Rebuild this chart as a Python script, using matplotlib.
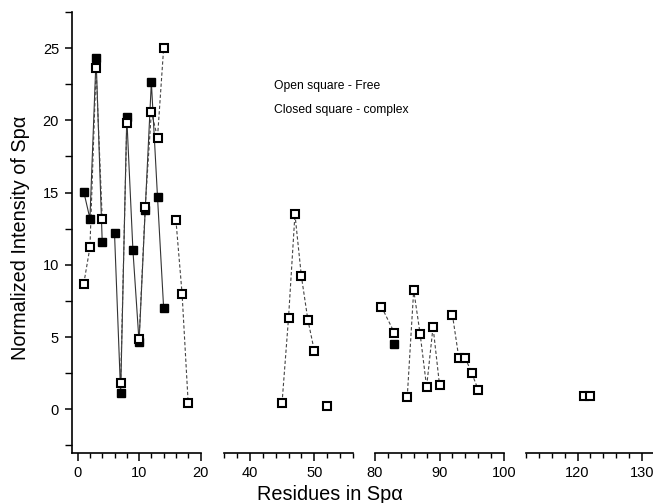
import matplotlib
matplotlib.use('Agg')
import matplotlib.pyplot as plt
from matplotlib.ticker import MultipleLocator
import numpy as np

plt.rcParams['font.family'] = ['Liberation Sans', 'DejaVu Sans']

nan = np.nan

# free protein (open squares); nan = residue not observed (line break)
free_x = [1, 2, 3, 4, nan, 7, 8, nan, 10, 11, 12, 13, 14, nan, 16, 17, 18, nan,
          45, 46, 47, 48, 49, 50, nan, 52, nan, 81, 83, nan,
          85, 86, 87, 88, 89, 90, nan, 92, 93, 94, 95, 96, nan, 121, 122]
free_y = [8.7, 11.2, 23.6, 13.2, nan, 1.8, 19.8, nan, 4.85, 14.0, 20.6, 18.8, 25.0, nan,
          13.1, 8.0, 0.4, nan,
          0.45, 6.3, 13.5, 9.2, 6.2, 4.05, nan, 0.25, nan, 7.1, 5.3, nan,
          0.85, 8.25, 5.2, 1.55, 5.7, 1.7, nan, 6.55, 3.55, 3.55, 2.5, 1.35, nan, 0.9, 0.9]

# complex (closed squares)
cplx_x = [1, 2, 3, 4, nan, 6, 7, 8, 9, 10, 11, 12, 13, 14, nan, 83]
cplx_y = [15.05, 13.2, 24.3, 11.6, nan, 12.2, 1.1, 20.2, 11.0, 4.65, 13.8, 22.65, 14.7, 7.0, nan, 4.5]

# broken x axis: four segments
segments = [(-1, 20), (36, 56), (80, 100), (112, 132)]
seg_px = [(71.5, 200.5), (224, 353), (375, 504), (526, 655)]

W, H = 653, 503
fig = plt.figure(figsize=(W / 100, H / 100), dpi=100)

bottom = (H - 452.6) / H
top = (H - 12) / H

for i, ((x0, x1), (p0, p1)) in enumerate(zip(segments, seg_px)):
    ax = fig.add_axes([p0 / W, bottom, (p1 - p0) / W, top - bottom])
    ax.plot(cplx_x, cplx_y, '-', color='#333333', lw=0.8, zorder=2)
    ax.plot(free_x, free_y, '--', color='#444444', lw=0.8, dashes=(3, 2), zorder=2)
    ax.plot(cplx_x, cplx_y, 's', color='black', ms=6, mec='black', lw=0, zorder=3)
    ax.plot(free_x, free_y, 's', mfc='white', mec='black', ms=6, mew=1.5, lw=0, zorder=4)
    ax.set_xlim(x0, x1)
    ax.set_ylim(-3, 27.5)
    for s in ['top', 'right']:
        ax.spines[s].set_visible(False)
    ax.spines['bottom'].set_linewidth(1.2)
    ax.spines['left'].set_linewidth(1.2)
    ax.xaxis.set_major_locator(MultipleLocator(10))
    ax.xaxis.set_minor_locator(MultipleLocator(2))
    ax.tick_params(axis='x', which='major', direction='out', length=6, width=1.1, labelsize=10.5, pad=4)
    ax.tick_params(axis='x', which='minor', direction='out', length=3.5, width=1.0)
    if i == 0:
        ax.set_yticks([0, 5, 10, 15, 20, 25])
        ax.yaxis.set_minor_locator(MultipleLocator(2.5))
        ax.tick_params(axis='y', which='major', direction='out', length=5, width=1.1, labelsize=10.5, pad=4)
        ax.tick_params(axis='y', which='minor', direction='out', length=5, width=1.0)
    else:
        ax.spines['left'].set_visible(False)
        ax.set_yticks([])
        ax.yaxis.set_minor_locator(plt.NullLocator())
    ax.patch.set_alpha(0)

fig.text(274 / W, 1 - 86 / H, 'Open square - Free', fontsize=8.7, va='center', ha='left')
fig.text(274 / W, 1 - 110 / H, 'Closed square - complex', fontsize=8.7, va='center', ha='left')

fig.text(330 / W, 1 - 494 / H, 'Residues in Sp\u03b1', fontsize=14.3, ha='center', va='center')
fig.text(21 / W, 1 - 238 / H, 'Normalized Intensity of Sp\u03b1', fontsize=14.3,
         rotation=90, ha='center', va='center')

fig.savefig('out.png', dpi=100, facecolor='white')
